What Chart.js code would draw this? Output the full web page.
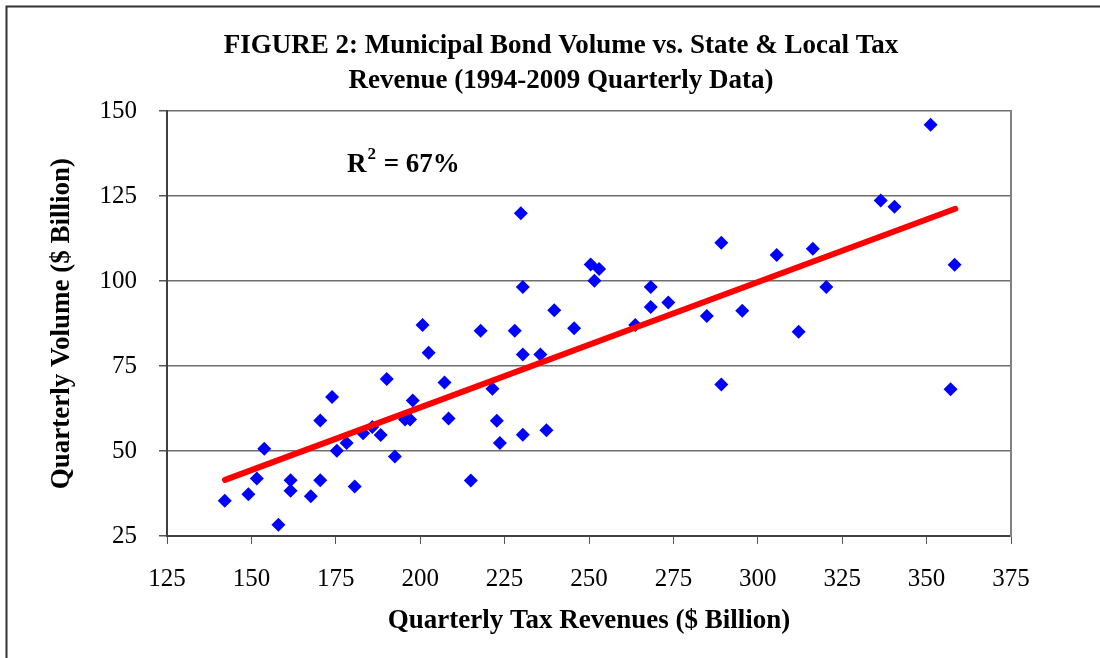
<!DOCTYPE html>
<html>
<head>
<meta charset="utf-8">
<script src="https://cdn.jsdelivr.net/npm/chart.js@4/dist/chart.umd.min.js"></script>
<style>
  html, body { margin: 0; padding: 0; background: #fff; }
  #wrap { width: 1100px; height: 658px; position: relative; }
</style>
</head>
<body>
<div id="wrap"><canvas id="bondChart"></canvas></div>
<script>
// quarterly tax revenue ($ billion) and bond volume ($ billion)
const taxRevenue = [
    142.1, 149.1, 151.6, 153.8, 158.0, 161.6, 161.6, 167.6, 170.4, 170.4,
    173.9, 175.3, 178.2, 180.6, 183.1, 185.8, 188.3, 190.1, 192.5, 195.5,
    197.0, 197.8, 200.7, 202.5, 207.2, 208.4, 215.0, 217.9, 221.4, 222.7,
    223.6, 228.0, 229.8, 230.4, 230.4, 230.4, 235.6, 237.4, 239.7, 245.6,
    250.5, 253.0, 251.6, 263.7, 268.3, 268.3, 273.5, 284.9, 289.2, 289.2,
    295.4, 305.6, 312.1, 316.3, 320.3, 336.4, 340.5, 351.2, 357.1, 358.3
];
const bondVolume = [
    35.4, 37.3, 41.9, 50.7, 28.3, 41.4, 38.3, 36.7, 41.4, 59.0,
    65.9, 50.1, 52.4, 39.6, 55.2, 57.1, 54.7, 71.2, 48.4, 59.3,
    59.3, 64.9, 87.1, 78.9, 70.2, 59.6, 41.3, 85.4, 68.3, 58.9,
    52.4, 85.4, 120.0, 98.3, 78.4, 54.8, 78.4, 56.1, 91.4, 86.1,
    104.9, 103.6, 100.1, 87.1, 98.3, 92.4, 93.7, 89.7, 111.3, 69.6,
    91.3, 107.7, 85.1, 109.5, 98.3, 123.7, 121.9, 146.0, 68.2, 104.8
];

// fitted trend line end points as drawn in the figure
const trendX = [142.2, 358.5];
const trendY = [41.5, 121.3];

const xTicks = [125, 150, 175, 200, 225, 250, 275, 300, 325, 350, 375];
const yTicks = [25, 50, 75, 100, 125, 150];

const titleLines = [
    "FIGURE 2: Municipal Bond Volume vs. State & Local Tax",
    "Revenue (1994-2009 Quarterly Data)"
];
const xTitle = "Quarterly Tax Revenues ($ Billion)";
const yTitle = "Quarterly Volume ($ Billion)";
const rSquared = { text: "67%", x: 178.3, y: 135 };

const serif = "'Liberation Serif', 'Times New Roman', serif";

const points = taxRevenue.map((x, i) => ({ x: x, y: bondVolume[i] }));
const trend = trendX.map((x, i) => ({ x: x, y: trendY[i] }));

// page border + R² label
const extras = {
    id: "extras",
    beforeDraw(chart) {
        const c = chart.ctx;
        c.save();
        c.strokeStyle = "#333";
        c.lineWidth = 2;
        c.beginPath();
        c.moveTo(6.5, 700);
        c.lineTo(6.5, 6.5);
        c.lineTo(1200, 6.5);
        c.stroke();
        c.restore();
    },
    afterDraw(chart) {
        const c = chart.ctx;
        const px = chart.scales.x.getPixelForValue(rSquared.x);
        const py = chart.scales.y.getPixelForValue(rSquared.y);
        c.save();
        c.fillStyle = "#000";
        c.textBaseline = "alphabetic";
        c.font = "bold 27px " + serif;
        c.fillText("R", px, py + 10);
        let w = c.measureText("R").width;
        c.font = "bold 17px " + serif;
        c.fillText("2", px + w + 1, py - 3);
        w += c.measureText("2").width + 2;
        c.font = "bold 27px " + serif;
        c.fillText(" = " + rSquared.text, px + w, py + 10);
        c.restore();
    }
};

const ctx = document.getElementById("bondChart").getContext("2d");
const bondChart = new Chart(ctx, {
    type: "scatter",
    data: {
        datasets: [{
            label: "Volume",
            data: points,
            pointStyle: "rectRot",
            pointRadius: 7,
            pointHoverRadius: 7,
            backgroundColor: "#0000ff",
            borderColor: "#0000ff",
            borderWidth: 0,
            order: 1
        }, {
            type: "line",
            label: "Trend",
            data: trend,
            showLine: true,
            borderColor: "#ff0000",
            borderWidth: 6,
            borderCapStyle: "round",
            pointRadius: 0,
            fill: false,
            order: 0
        }]
    },
    options: {
        responsive: true,
        maintainAspectRatio: false,
        animation: false,
        layout: { padding: { left: 22, right: 0, top: 0, bottom: 0 } },
        plugins: {
            legend: { display: false },
            tooltip: { enabled: false },
            title: {
                display: true,
                text: titleLines,
                color: "#000",
                font: { family: serif, size: 27, weight: "bold", lineHeight: 1.3 },
                padding: { top: 28, bottom: 13 }
            }
        },
        scales: {
            x: {
                type: "linear",
                min: 125,
                max: 375,
                afterBuildTicks: (s) => { s.ticks = xTicks.map(v => ({ value: v })); },
                afterFit: (s) => { s.height = 122; },
                ticks: {
                    color: "#000",
                    padding: 20,
                    maxRotation: 0,
                    font: { family: serif, size: 25 }
                },
                grid: {
                    drawOnChartArea: false,
                    color: "#555",
                    tickLength: 8
                },
                border: { display: true, color: "#404040", width: 2 },
                title: {
                    display: true,
                    text: xTitle,
                    color: "#000",
                    font: { family: serif, size: 27, weight: "bold" },
                    padding: { top: 4, bottom: 21 }
                }
            },
            y: {
                type: "linear",
                min: 25,
                max: 150,
                afterBuildTicks: (s) => { s.ticks = yTicks.map(v => ({ value: v })); },
                afterFit: (s) => { s.width = 145; },
                ticks: {
                    color: "#000",
                    padding: 22,
                    font: { family: serif, size: 25 }
                },
                grid: {
                    color: "#6e6e6e",
                    lineWidth: 1.5,
                    tickColor: "#555",
                    tickLength: 8
                },
                border: { display: true, color: "#404040", width: 2 },
                title: {
                    display: true,
                    text: yTitle,
                    color: "#000",
                    font: { family: serif, size: 27, weight: "bold" },
                    padding: { top: 24, bottom: 0 }
                }
            },
            // right-hand frame of the plot area, no labels
            y2: {
                type: "linear",
                position: "right",
                min: 25,
                max: 150,
                afterFit: (s) => { s.width = 89; },
                ticks: { display: false },
                grid: { display: false },
                border: { display: true, color: "#808080", width: 2 }
            }
        }
    },
    plugins: [extras]
});
</script>
</body>
</html>
